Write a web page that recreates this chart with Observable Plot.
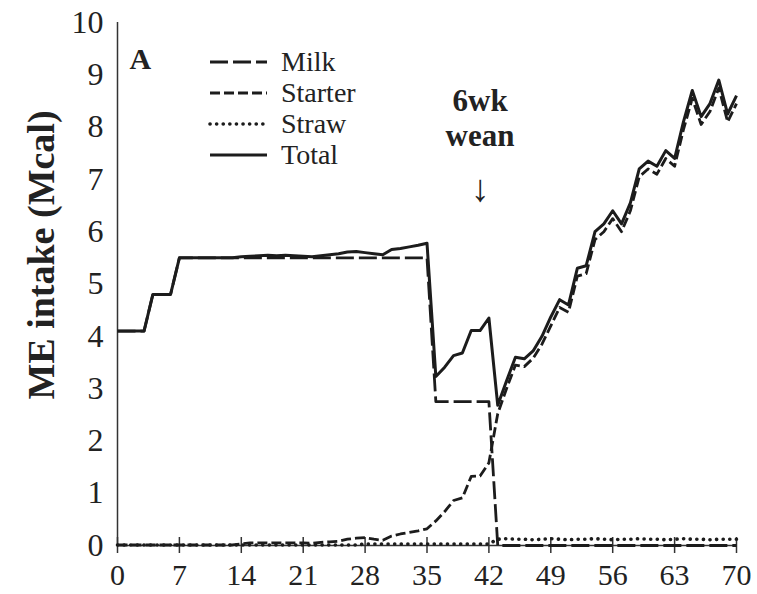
<!DOCTYPE html>
<html><head><meta charset="utf-8">
<script src="https://cdn.jsdelivr.net/npm/d3@7"></script>
<script src="https://cdn.jsdelivr.net/npm/@observablehq/plot@0.6"></script>
<style>
body{margin:0;background:#fff;}
#wrap{position:relative;width:757px;height:594px;font-family:"Liberation Serif","Times New Roman",serif;}
#legend{position:absolute;left:208px;top:46px;}
.row{display:flex;align-items:center;height:31px;line-height:31px;font-size:28px;color:#222;}
.row svg{margin-right:13px;display:block;}
</style></head><body><div id="wrap"></div>
<script>
// Day of life (0..70)
const days = Array.from({length: 71}, (_, i) => i);

// ME intake (Mcal/d)
const milk = [
  4.1,4.1,4.1,4.1, 4.8,4.8,4.8,
  5.5,5.5,5.5,5.5,5.5,5.5,5.5,5.5,5.5,5.5,5.5,5.5,5.5,5.5,5.5,5.5,5.5,5.5,5.5,5.5,5.5,5.5,5.5,5.5,5.5,5.5,5.5,5.5,5.5,
  2.75,2.75,2.75,2.75,2.75,2.75,2.75,
  0,0,0,0,0,0,0,0,0,0,0,0,0,0,0,0,0,0,0,0,0,0,0,0,0,0,0,0
];
const starter = [
  0.01,0.01,0.01,0.01,0.01,0.01,0.01,0.01,0.01,0.01,0.01,0.01,0.01,0.01,
  0.03,
  0.05,0.05,0.05,0.05,0.05,0.05,
  0.05,0.04,0.06,0.07,0.08,0.12,0.14,0.15,0.12,0.10,0.18,0.22,0.25,0.28,0.32,
  0.47,0.65,0.86,0.91,1.32,1.33,1.58,
  2.52,3.00,3.45,3.42,3.58,3.85,4.20,4.55,4.46,5.15,5.20,5.85,6.00,6.25,6.00,6.40,7.05,7.20,7.10,7.40,7.25,7.95,8.55,8.05,8.30,8.75,8.10,8.45
];
const straw = [
  0.01,0.01,0.01,0.01,0.01,0.01,0.01,0.01,0.01,0.01,0.01,0.01,0.01,0.01,
  0.01,0.01,0.01,0.01,0.01,0.01,0.01,0.01,0.01,0.01,0.01,0.01,0.01,0.01,
  0.03,0.03,0.03,0.03,0.03,0.03,0.03,0.03,0.03,0.03,0.03,0.03,0.03,0.03,0.03,
  0.12,0.13,0.12,0.12,0.11,0.12,0.13,0.12,0.11,0.12,0.12,0.13,0.12,0.11,
  0.12,0.12,0.13,0.12,0.12,0.11,0.12,0.13,0.12,0.12,0.11,0.12,0.12,0.12
];
const total = [
  4.1,4.1,4.1,4.1, 4.8,4.8,4.8,
  5.5,5.5,5.5,5.5,5.5,5.5,5.5,
  5.52,
  5.53,5.54,5.55,5.54,5.55,5.54,
  5.53,5.52,5.54,5.56,5.58,5.61,5.62,5.60,5.58,5.56,5.66,5.68,5.71,5.74,5.78,
  3.23,3.41,3.63,3.68,4.11,4.11,4.35,
  2.68,3.15,3.60,3.57,3.72,4.00,4.37,4.70,4.60,5.30,5.35,6.00,6.15,6.40,6.15,6.55,7.20,7.35,7.25,7.55,7.40,8.10,8.70,8.20,8.45,8.90,8.25,8.60
];

const seriesNames = ["Milk", "Starter", "Straw", "Total"];
const xTicks = [0, 7, 14, 21, 28, 35, 42, 49, 56, 63, 70];
const yTicks = [0, 1, 2, 3, 4, 5, 6, 7, 8, 9, 10];
const yLabel = "ME intake (Mcal)";
const panelLabel = "A";
const annotations = [{day: 41, label: "6wk\nwean", arrow: "↓"}];

const seriesValues = {Milk: milk, Starter: starter, Straw: straw, Total: total};
const styles = {
  Milk:    {dash: "18,5", width: 2.8, cap: "butt"},
  Starter: {dash: "10,4", width: 2.8, cap: "butt"},
  Straw:   {dash: "0.1,6.5", width: 3.6, cap: "round"},
  Total:   {dash: null, width: 3, cap: "butt"}
};
const rows = seriesNames.flatMap(s => days.map((d, i) => ({series: s, day: d, value: seriesValues[s][i]})));

const ink = "#1c1c1c";
const lineMarks = ["Straw", "Milk", "Starter", "Total"].map(s => Plot.line(rows.filter(r => r.series === s), {
  x: "day", y: "value", stroke: ink, strokeWidth: styles[s].width,
  strokeDasharray: styles[s].dash, strokeLinecap: styles[s].cap, strokeLinejoin: "round"
}));

const chart = Plot.plot({
  width: 757, height: 594,
  marginLeft: 117, marginRight: 21, marginTop: 22, marginBottom: 49,
  style: {fontFamily: "'Liberation Serif', 'Times New Roman', serif", background: "white", color: "#222", overflow: "visible"},
  x: {domain: [0, 70], label: null},
  y: {domain: [0, 10], label: null},
  marks: [
    Plot.ruleX([0], {stroke: "#333", strokeWidth: 1.5}),
    Plot.ruleY([0], {stroke: "#333", strokeWidth: 1.5}),
    Plot.axisX({ticks: xTicks, tickSize: 8, tickFormat: () => "", stroke: "#333", strokeWidth: 1.5}),
    Plot.axisX({ticks: xTicks, tickSize: 8, dy: -8, tickFormat: () => "", stroke: "#333", strokeWidth: 1.5}),
    Plot.axisX({ticks: xTicks, tickSize: 0, tickPadding: 18, fontSize: 30, fill: "#222"}),
    Plot.axisY({ticks: yTicks, tickSize: 0, tickPadding: 14, fontSize: 32, fill: "#222"}),
    ...lineMarks,
    Plot.text([yLabel], {frameAnchor: "left", textAnchor: "middle", lineAnchor: "middle", rotate: -90, dx: -76, dy: -29, fontSize: 38, fontWeight: "bold", fill: "#222"}),
    Plot.text([panelLabel], {frameAnchor: "top-left", dx: 12, dy: 25, fontSize: 30, fontWeight: "bold", textAnchor: "start", lineAnchor: "top", fill: "#222"}),
    Plot.text(annotations, {x: "day", text: "label", frameAnchor: "top", dy: 63, lineAnchor: "top", lineHeight: 1.15, fontSize: 31, fontWeight: "bold", fill: "#222"}),
    Plot.text(annotations, {x: "day", text: "arrow", frameAnchor: "top", dy: 152, fontSize: 38, fill: "#222"})
  ]
});

const wrap = document.getElementById("wrap");
wrap.appendChild(chart);

const legend = document.createElement("div");
legend.id = "legend";
for (const s of seriesNames) {
  const row = document.createElement("div");
  row.className = "row";
  const st = styles[s];
  row.innerHTML = `<svg width="60" height="10"><line x1="2" x2="59" y1="5" y2="5" stroke="${ink}" stroke-width="${st.width}" ${st.dash ? `stroke-dasharray="${st.dash}"` : ""} stroke-linecap="${st.cap}"/></svg><span>${s}</span>`;
  legend.appendChild(row);
}
wrap.appendChild(legend);
</script>
</body></html>
